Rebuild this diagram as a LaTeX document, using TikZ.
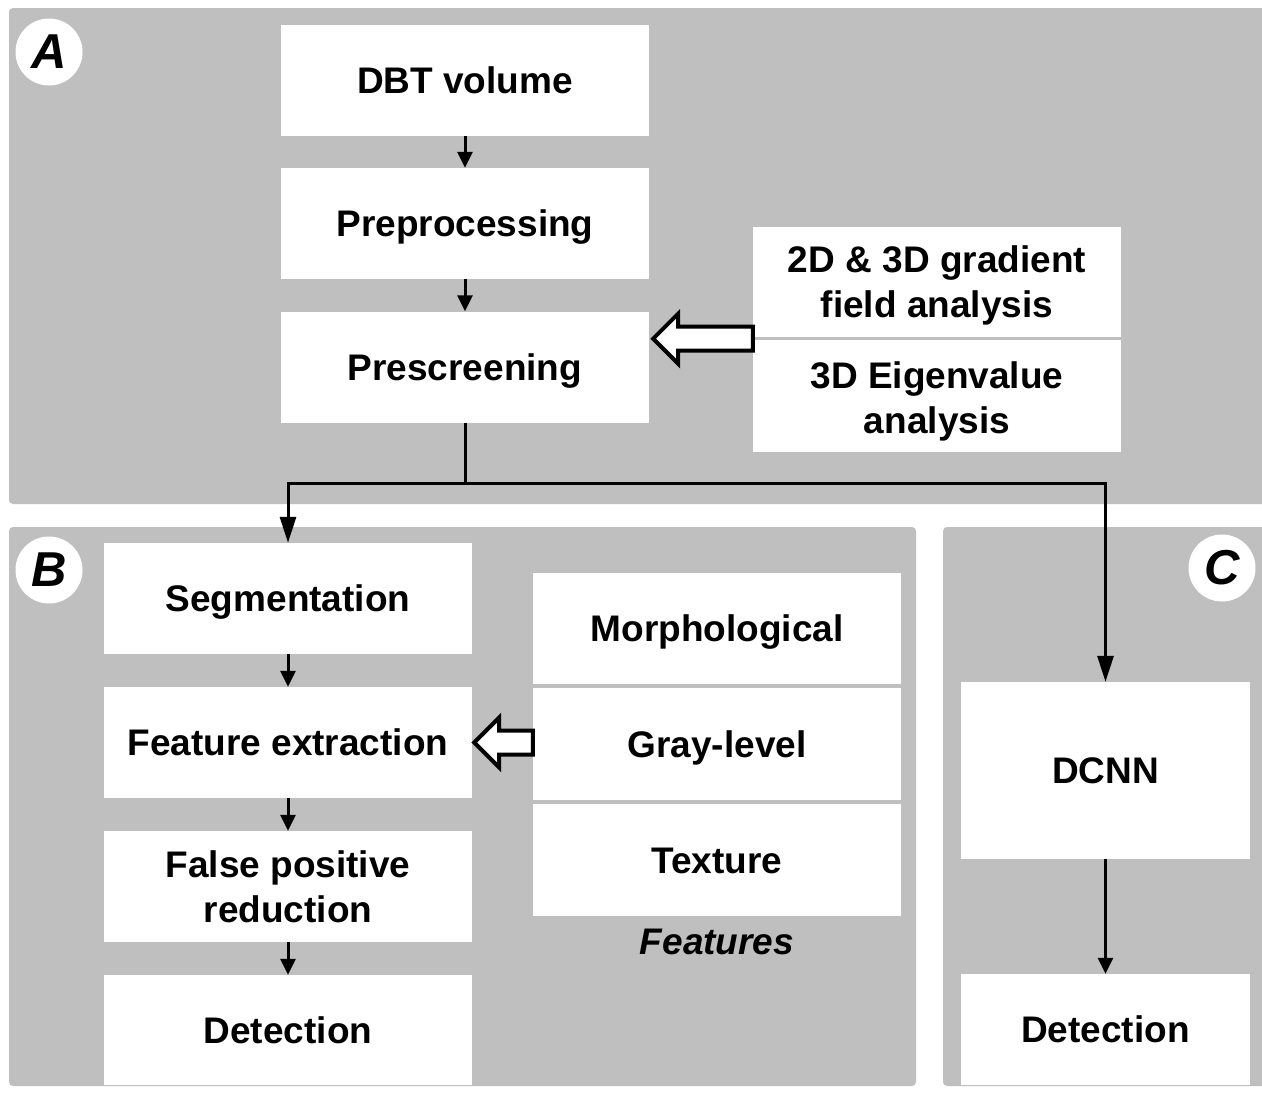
\documentclass[tikz,border=0pt]{standalone}
\usepackage{fontspec}
\setmainfont{Liberation Sans}
\usetikzlibrary{arrows.meta,calc}
\definecolor{panelgray}{RGB}{191,191,191}
\tikzset{
  panel/.style={fill=panelgray,draw=none,rounded corners=4pt},
  boxtext/.style={inner sep=0pt,align=center,
    font=\fontsize{37}{45}\selectfont\bfseries},
  box/.style={boxtext,fill=white,draw=none,
    minimum width=368pt,minimum height=111pt},
  onebox/.style={box,text height=26.5pt,text depth=0pt},
  tag/.style={circle,fill=white,draw=none,minimum size=67pt,inner sep=0pt,
    font=\fontsize{49}{49}\selectfont\bfseries\itshape},
  arr/.style={line width=3pt,-{Triangle[length=16pt,width=15pt]}},
  arrlong/.style={line width=3pt,-{Triangle[length=26pt,width=16pt]}},
  conn/.style={line width=3pt},
  hollow/.style={fill=white,draw=black,line width=4pt,line join=miter},
}
\newcommand\hollowarr[2]{%
  \draw[hollow] let \p1=(#1), \p2=(#2) in
    (\p1) -- (\x1+25pt,\y1+25pt) -- (\x1+25pt,\y1+12pt) -- (\x2,\y1+12pt)
    -- (\x2,\y1-12pt) -- (\x1+25pt,\y1-12pt) -- (\x1+25pt,\y1-25pt) -- cycle;}
\begin{document}
\begin{tikzpicture}[x=1pt,y=-1pt]
\useasboundingbox[fill=white] (0,0) rectangle (1262,1095);
% panels
\fill[panel] (9,8) rectangle (1266,504);
\fill[panel] (9,527) rectangle (916,1086);
\fill[panel] (943,527) rectangle (1266,1086);
% panel A
\node[onebox] (dbt) at (465,80) {DBT volume};
\node[onebox] (prep) at (465,223.5) {Preprocessing};
\node[onebox] (presc) at (465,367) {Prescreening};
\node[box,minimum height=110pt] (grad) at (937,282) {};
\node[boxtext] (gradt) at ($(grad)+(0,3)$) {2D \& 3D gradient\\field analysis};
\node[box,minimum height=112pt] (eig) at (937,396) {};
\node[boxtext] (eigt) at ($(eig)+(0,5)$) {3D Eigenvalue\\analysis};
\node[tag] (ta) at (49,52) {A};
% panel B
\node[onebox] (seg) at (288,598.5) {Segmentation};
\node[onebox] (feat) at (288,742.5) {Feature extraction};
\node[box] (fpr) at (288,886.5) {False positive\\reduction};
\node[onebox,minimum height=110pt] (det) at (288,1030) {Detection};
\node[onebox] (morph) at (717,628.5) {Morphological};
\node[onebox,minimum height=112pt] (gray) at (717,744) {Gray-level};
\node[onebox,minimum height=112pt] (tex) at (717,860) {Texture};
\node[inner sep=0pt,font=\fontsize{37}{45}\selectfont\bfseries\itshape] (flab) at (717,942) {Features};
\node[tag] (tb) at (49,570) {B};
% panel C
\node[onebox,minimum width=289pt,minimum height=177pt] (dcnn) at (1105.5,770.5) {DCNN};
\node[onebox,minimum width=289pt,minimum height=111pt] (det2) at (1105.5,1029.5) {Detection};
\node[tag] (tc) at (1222,568) {C};
% connectors
\draw[arr] (dbt) -- (prep);
\draw[arr] (prep) -- (presc);
\coordinate (j) at ($(presc.south)+(0,61)$);
\draw[conn] (presc.south) -- (j);
\draw[arrlong] (j) -| (seg.north);
\draw[arrlong] (j) -| (dcnn.north);
\draw[arr] (seg) -- (feat);
\draw[arr] (feat) -- (fpr);
\draw[arr] (fpr) -- (det);
\draw[arr] (dcnn) -- (det2);
\coordinate (tipA) at ($(presc.east|-grad.south)+(4,1.5)$);
\hollowarr{tipA}{grad.west}
\coordinate (tipB) at ($(feat.east)+(2,0)$);
\hollowarr{tipB}{gray.west}
\end{tikzpicture}
\end{document}
